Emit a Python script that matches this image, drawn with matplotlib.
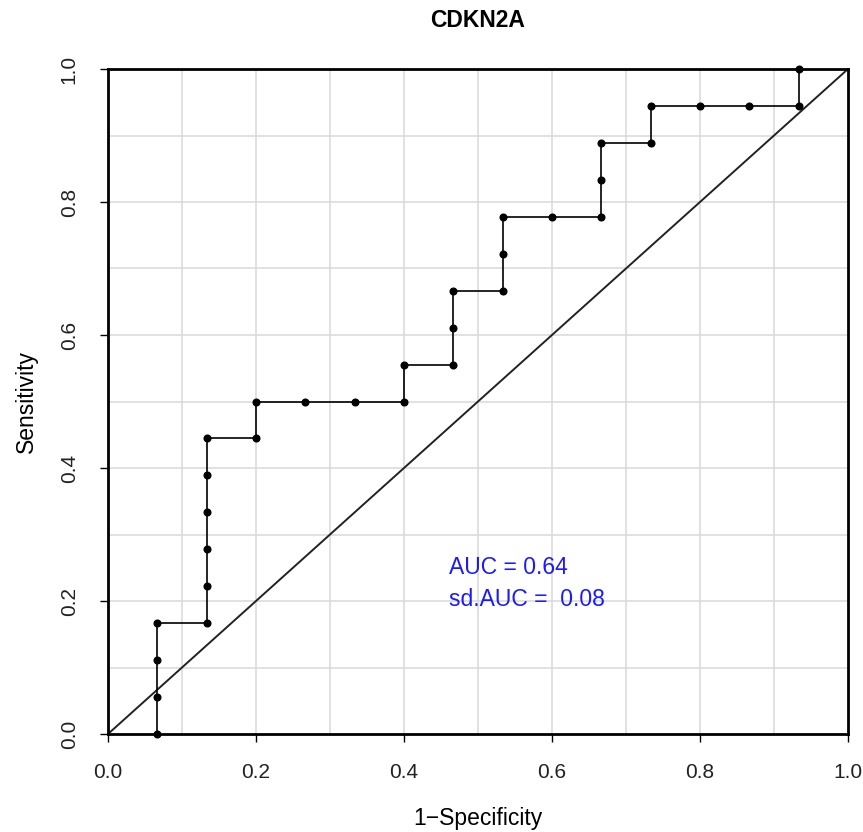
import matplotlib
matplotlib.use("Agg")
import matplotlib.pyplot as plt
import numpy as np

# ROC points: false positive rate (1 - specificity) and sensitivity
fpr = [1/15, 1/15, 1/15, 1/15,
       2/15, 2/15, 2/15, 2/15, 2/15, 2/15,
       3/15, 3/15, 4/15, 5/15, 6/15, 6/15,
       7/15, 7/15, 7/15, 8/15, 8/15, 8/15,
       9/15, 10/15, 10/15, 10/15, 11/15, 11/15,
       12/15, 13/15, 14/15, 14/15]
tpr = [0/18, 1/18, 2/18, 3/18,
       3/18, 4/18, 5/18, 6/18, 7/18, 8/18,
       8/18, 9/18, 9/18, 9/18, 9/18, 10/18,
       10/18, 11/18, 12/18, 12/18, 13/18, 14/18,
       14/18, 14/18, 15/18, 16/18, 16/18, 17/18,
       17/18, 17/18, 17/18, 18/18]

auc = 0.64
sd_auc = 0.08
title = "CDKN2A"
ticks = [0.0, 0.2, 0.4, 0.6, 0.8, 1.0]
tick_labels = ["0.0", "0.2", "0.4", "0.6", "0.8", "1.0"]

plt.rcParams["font.family"] = ["Liberation Sans", "DejaVu Sans"]

W, H = 863, 832
fig = plt.figure(figsize=(W / 100, H / 100), dpi=100)
ax = fig.add_axes([108 / W, (H - 734) / H, (848 - 108) / W, (734 - 69) / H])

ax.set_xlim(0, 1)
ax.set_ylim(0, 1)

# light grid every 0.1
for g in np.arange(0.1, 1.0, 0.1):
    ax.axvline(g, color="#d9d9d9", lw=1.1, zorder=0)
    ax.axhline(g, color="#d9d9d9", lw=1.1, zorder=0)

# chance diagonal
ax.plot([0, 1], [0, 1], color="#222222", lw=1.4, zorder=2)

# ROC step curve with points
ax.plot(fpr, tpr, color="black", lw=1.2, marker="o", markersize=4.8,
        zorder=3, clip_on=False)

ax.text(0.461, 0.250, f"AUC = {auc:.2f}", color="#1a1aff", fontsize=16.5,
        ha="left", va="center")
ax.text(0.461, 0.202, f"sd.AUC =  {sd_auc:.2f}", color="#1a1aff", fontsize=16.5,
        ha="left", va="center")

for s in ax.spines.values():
    s.set_linewidth(2.0)
    s.set_color("black")

ax.set_xticks(ticks)
ax.set_xticklabels(tick_labels)
ax.set_yticks(ticks)
ax.set_yticklabels(tick_labels, rotation=90, va="center")
ax.tick_params(axis="both", direction="out", length=6, width=1.0,
               labelsize=15, pad=15, colors="black", labelcolor="#222222")

ax.set_xlabel("1\u2212Specificity", fontsize=16.5, labelpad=18)
ax.set_ylabel("Sensitivity", fontsize=16.5, labelpad=16)
ax.set_title(title, fontsize=16.5, fontweight="bold", pad=30)

fig.savefig("out.png", dpi=100)
